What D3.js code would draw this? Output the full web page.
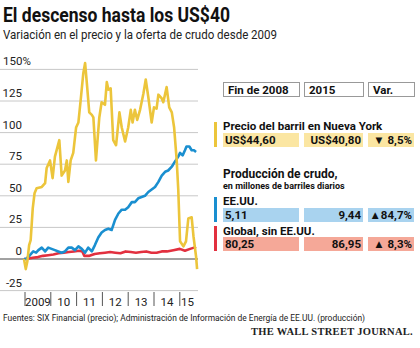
<!DOCTYPE html>
<html><head><meta charset="utf-8">
<script src="https://cdn.jsdelivr.net/npm/d3@7"></script>
<style>
html,body{margin:0;padding:0;background:#fff;}
svg{display:block;font-family:"Roboto",sans-serif;}
</style></head>
<body><svg id="c" width="420" height="348"></svg>
<script>
// ---- data ----
const priceT = [2008.96,2009.03,2009.09,2009.16,2009.22,2009.30,2009.37,2009.45,2009.65,2009.78,2009.84,2009.97,2010.07,2010.16,2010.33,2010.42,2010.55,2010.62,2010.68,2010.77,2010.87,2010.98,2011.07,2011.16,2011.26,2011.33,2011.41,2011.49,2011.59,2011.65,2011.75,2011.88,2011.97,2012.10,2012.17,2012.23,2012.32,2012.42,2012.53,2012.66,2012.75,2012.88,2013.00,2013.10,2013.17,2013.26,2013.35,2013.46,2013.59,2013.68,2013.78,2013.91,2014.00,2014.10,2014.17,2014.30,2014.36,2014.49,2014.59,2014.69,2014.78,2014.88,2014.94,2015.01,2015.14,2015.24,2015.33,2015.46,2015.53,2015.63,2015.67];
const priceV = [0,-8,-2,11,15,40,52,56,57,60,72,78,64,81,94,66,70,78,61,78,84,104,108,126,147,155,136,116,114,112,78,112,124,122,140,134,135,94,90,116,104,93,104,118,108,118,110,118,131,142,128,108,120,119,130,127,124,136,120,116,104,78,55,14,10,14,32,33,18,2,-8];
const usT = [2008.96,2009.04,2009.19,2009.32,2009.43,2009.52,2009.65,2009.78,2009.90,2010.03,2010.16,2010.29,2010.42,2010.55,2010.68,2010.81,2010.94,2011.07,2011.20,2011.33,2011.45,2011.59,2011.71,2011.84,2011.97,2012.10,2012.23,2012.36,2012.49,2012.62,2012.75,2012.88,2013.00,2013.14,2013.26,2013.39,2013.52,2013.65,2013.78,2013.91,2014.04,2014.17,2014.30,2014.43,2014.55,2014.69,2014.81,2014.94,2015.01,2015.11,2015.20,2015.26,2015.37,2015.46,2015.55,2015.63];
const usV = [0,0,3,6,5,7,9,6,9,8,7,6,5,6,9,9,7,10,8,5,9,6,11,17,21,23,24,23,31,36,39,39,41,45,45,48,49,50,53,55,57,61,66,69,70,73,77,81,84,82,86,89,89,86,86,84.7];
const globalT = [2008.96,2009.04,2009.3,2009.5,2009.7,2009.9,2010.1,2010.3,2010.5,2010.7,2010.9,2011.1,2011.22,2011.3,2011.5,2011.7,2011.9,2012.1,2012.3,2012.5,2012.7,2012.9,2013.1,2013.3,2013.5,2013.7,2013.9,2014.1,2014.3,2014.5,2014.75,2015.0,2015.2,2015.4,2015.55,2015.63];
const globalV = [0,0,1,1.5,2.5,3,3.5,4.5,5,5.5,6,6.5,6,2.5,2.5,4,4.5,5,5.5,5,4.5,6,5.5,5,5.5,6,5,5,6,6,7,8,6.5,8,9,8.3];
const yTicks = [-25,0,25,50,75,100,125,150];
const yTickLabels = ["-25","0","25","50","75","100","125","150%"];
const years = [2009,2010,2011,2012,2013,2014,2015];
const yearLabels = ["2009","10","11","12","13","14","15"];
const tableHeaders = ["Fin de 2008","2015","Var."];
const seriesNames = ["Precio del barril en Nueva York","EE.UU.","Global, sin EE.UU."];
const startVals = ["US$44,60","5,11","80,25"];
const endVals = ["US$40,80","9,44","86,95"];
const changeVals = ["\u25BC  8,5%","\u25B284,7%","\u25B2  8,3%"];
const colors = ["#ecc53b","#1a8fd0","#e2303f"];
const bandColors = ["#fbe6a2","#a9d3ef","#f5a898"];

// ---- chart ----
const svg = d3.select("#c");
svg.append("rect").attr("width",420).attr("height",348).attr("fill","#fff");

svg.append("text").attr("x",3).attr("y",22).attr("font-size",20).attr("font-weight","bold")
  .attr("textLength",227).attr("lengthAdjust","spacingAndGlyphs")
  .attr("fill","#111").text("El descenso hasta los US$40");
svg.append("text").attr("x",3).attr("y",39).attr("font-size",13)
  .attr("textLength",274).attr("lengthAdjust","spacingAndGlyphs")
  .attr("fill","#222").text("Variación en el precio y la oferta de crudo desde 2009");

const x = d3.scaleLinear().domain([2009,2016]).range([25,205.6]);
const y = d3.scaleLinear().domain([-25,150]).range([290.6,69.4]);

const g = svg.append("g");
g.selectAll("line.grid").data(yTicks).join("line")
  .attr("x1",0).attr("x2",198).attr("y1",d=>y(d)).attr("y2",d=>y(d))
  .attr("stroke",d=>d===0?"#444":"#c8c8c8").attr("stroke-width",1);
g.selectAll("text.ylab").data(yTicks).join("text")
  .attr("x",22).attr("y",d=>y(d)-4).attr("text-anchor","end")
  .attr("font-size",11.5).attr("fill","#222")
  .each(function(d,i){
    const t = d3.select(this);
    const lab = yTickLabels[i];
    if (lab.endsWith("%")) { t.text(lab); t.attr("text-anchor","start").attr("x",3); }
    else t.text(lab);
  });

// x axis ticks
g.selectAll("line.xt").data(years).join("line")
  .attr("x1",d=>x(d)).attr("x2",d=>x(d)).attr("y1",292).attr("y2",306)
  .attr("stroke","#555").attr("stroke-width",1);
const xEnd = 2015.6;
g.selectAll("text.xl").data(years).join("text")
  .attr("x",d=>x((d+Math.min(d+1,xEnd))/2)).attr("y",306).attr("text-anchor","middle")
  .attr("font-size",11.5).attr("fill","#222")
  .text((d,i)=>yearLabels[i]);

const line = d3.line().x(d=>x(d[0])).y(d=>y(d[1])).curve(d3.curveLinear);
const series = [[globalT,globalV,colors[2]],[usT,usV,colors[1]],[priceT,priceV,colors[0]]];
series.forEach(([T,V,c])=>{
  g.append("path").datum(T.map((t,i)=>[t,V[i]])).attr("d",line)
   .attr("fill","none").attr("stroke",c).attr("stroke-width",2.6).attr("stroke-linejoin","round");
});

// ---- table ----
const cols = [[223,299],[304,363],[368,414]];
tableHeaders.forEach((h,i)=>{
  svg.append("rect").attr("x",cols[i][0]+0.5).attr("y",82.5).attr("width",cols[i][1]-cols[i][0]).attr("height",14)
    .attr("fill","#fff").attr("stroke","#999");
  svg.append("text").attr("x",cols[i][0]+5).attr("y",94).attr("font-size",11.5).attr("font-weight","bold")
    .attr("fill","#111").text(h);
});

function row(i, top, nameY, bandY){
  svg.append("rect").attr("x",214).attr("y",top).attr("width",3).attr("height",bandY+14-top).attr("fill",colors[i]);
  svg.append("text").attr("x",223).attr("y",nameY).attr("font-size",11.5).attr("font-weight","bold")
    .attr("fill","#111").text(seriesNames[i]);
  cols.forEach((c,j)=>{
    svg.append("rect").attr("x",c[0]).attr("y",bandY).attr("width",c[1]-c[0]).attr("height",14).attr("fill",bandColors[i]);
  });
  const ty = bandY+11;
  svg.append("text").attr("x",225).attr("y",ty).attr("font-size",11.5).attr("font-weight","bold").attr("fill","#111").text(startVals[i]);
  svg.append("text").attr("x",361).attr("y",ty).attr("text-anchor","end").attr("font-size",11.5).attr("font-weight","bold").attr("fill","#111").text(endVals[i]);
  svg.append("text").attr("x",412).attr("y",ty).attr("text-anchor","end").attr("font-size",11.5).attr("font-weight","bold").attr("fill","#111").text(changeVals[i]);
}
row(0,122,130,133);
svg.append("text").attr("x",223).attr("y",178).attr("font-size",12).attr("font-weight","bold").attr("fill","#111").text("Producción de crudo,");
svg.append("text").attr("x",223).attr("y",189).attr("font-size",9).attr("font-weight","bold").attr("fill","#111").text("en millones de barriles diarios");
row(1,197,205,208);
row(2,226,235,237);

svg.append("text").attr("x",3).attr("y",321).attr("font-size",9.2).attr("fill","#222")
  .attr("textLength",362).attr("lengthAdjust","spacingAndGlyphs")
  .text("Fuentes: SIX Financial (precio); Administración de Información de Energía de EE.UU. (producción)");
svg.append("text").attr("x",413).attr("y",335).attr("text-anchor","end").attr("font-size",10.5).attr("font-weight","bold")
  .attr("font-family","Liberation Serif,serif").attr("letter-spacing",0.3).attr("fill","#222").text("THE WALL STREET JOURNAL.");
</script></body></html>
